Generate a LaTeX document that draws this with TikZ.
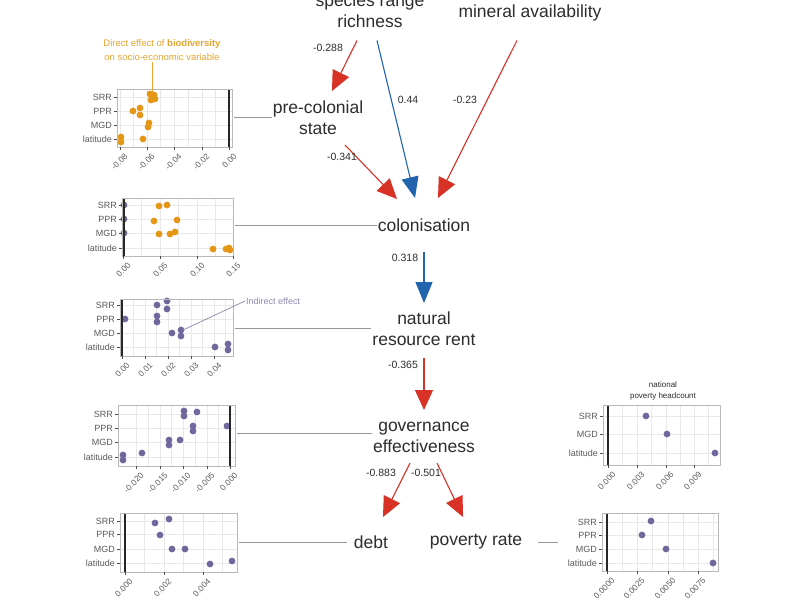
\documentclass[tikz,border=0pt]{standalone}
\usepackage{fontspec}
\setmainfont{Liberation Sans}
\usetikzlibrary{arrows.meta,calc}
\definecolor{cred}{RGB}{216,50,38}
\definecolor{cblue}{RGB}{35,100,175}
\definecolor{corange}{RGB}{228,150,20}
\definecolor{ctitle}{RGB}{230,165,50}
\definecolor{cpurple}{RGB}{112,104,156}
\definecolor{cind}{RGB}{140,136,180}
\definecolor{ctext}{RGB}{45,45,45}
\definecolor{caxis}{RGB}{90,90,90}
\definecolor{cgrid}{RGB}{232,232,232}
\definecolor{cconn}{RGB}{150,150,150}
\newcommand{\ytk}[3]{\draw[tickmark] (#1-3,#2) -- (#1,#2); \node[ylab] at (#1-5,#2) {#3};}
\newcommand{\xtk}[3]{\draw[tickmark] (#1,#2) -- (#1,#2+3); \node[xlab] at (#1+4,#2+6) {#3};}
\newcommand{\dO}[2]{\fill[corange] (#1,#2) circle (3.4pt);}
\newcommand{\dP}[2]{\fill[cpurple] (#1,#2) circle (3.4pt);}
\begin{document}
\begin{tikzpicture}[x=1pt,y=-1pt,
  main/.style={font=\fontsize{17.5}{21}\selectfont, text=ctext, align=center, inner sep=1pt},
  elab/.style={font=\fontsize{10.5}{12}\selectfont, text=ctext, inner sep=0pt},
  redarr/.style={draw=cred, line width=1.1pt, -{Triangle[width=18pt,length=20pt]}},
  bluearr/.style={draw=cblue, line width=1.1pt, -{Triangle[width=17pt,length=21pt]}},
  conn/.style={draw=cconn, line width=0.8pt},
  gridl/.style={draw=cgrid, line width=0.5pt},
  framel/.style={draw=gray!55, line width=0.8pt},
  zerol/.style={draw=black!85, line width=2.4pt},
  tickmark/.style={draw=gray!60!black, line width=0.6pt},
  ylab/.style={font=\fontsize{9}{10}\selectfont, text=caxis, anchor=east, inner sep=0pt},
  xlab/.style={font=\fontsize{8.3}{9}\selectfont, text=caxis, anchor=north east, rotate=45, inner sep=0pt},
]
\useasboundingbox[fill=white] (0,0) rectangle (800,600);

% ---------- main nodes ----------
\node[main] (srr) at (370,10.5) {species range\\richness};
\node[main] (min) at (530,12.5) {mineral availability};
\node[main] (pre) at (318,118) {pre-colonial\\state};
\node[main] (col) at (424,225) {colonisation};
\node[main] (nrr) at (424,329) {natural\\resource rent};
\node[main] (gov) at (424,437) {governance\\effectiveness};
\node[main] (debt) at (371,542) {debt};
\node[main] (pov) at (476,542) {poverty rate};

% ---------- arrows ----------
\draw[redarr] ($(srr)+(-13,30)$) -- ($(pre)+(14,-27)$);
\draw[bluearr] ($(srr)+(7,30)$) -- ($(col)+(-9,-27)$);
\draw[redarr] ($(min)+(-13,28)$) -- ($(col)+(14,-27)$);
\draw[redarr] ($(pre)+(27,27)$) -- ($(col)+(-27,-26)$);
\draw[bluearr] ($(col)+(0,27)$) -- ($(nrr)+(0,-26)$);
\draw[redarr] ($(nrr)+(0,29)$) -- ($(gov)+(0,-27)$);
\draw[redarr] ($(gov)+(-14,26)$) -- ($(debt)+(12,-25)$);
\draw[redarr] ($(gov)+(13,26)$) -- ($(pov)+(-13,-25)$);

% ---------- edge labels ----------
\node[elab] (l1) at (328,48) {-0.288};
\node[elab] (l2) at (408,100) {0.44};
\node[elab] (l3) at (465,100) {-0.23};
\node[elab] (l4) at (342,157) {-0.341};
\node[elab] (l5) at (405,258) {0.318};
\node[elab] (l6) at (403,365) {-0.365};
\node[elab] (l7) at (381,473) {-0.883};
\node[elab] (l8) at (426,473) {-0.501};

% ---------- plot 1 ----------
\fill[white] (117,89) rectangle (232,147);
\foreach \x in {120,133.5,147,160.5,174,188,202,215.5,229} \draw[gridl] (\x,89)--(\x,147);
\foreach \y in {97,111,125,139} \draw[gridl] (117,\y)--(232,\y);
\dO{150}{94}\dO{154}{95}\dO{151}{100}\dO{155}{99}
\dO{133}{111}\dO{140}{108}\dO{140}{115}
\dO{149}{123}\dO{148}{127}
\dO{121}{137}\dO{121}{142}\dO{143}{139}
\draw[zerol] (229,89)--(229,147);
\draw[framel] (117,89) rectangle (232,147);
\ytk{117}{97}{SRR}\ytk{117}{111}{PPR}\ytk{117}{125}{MGD}\ytk{117}{139}{latitude}
\xtk{120}{147}{-0.08}\xtk{147}{147}{-0.06}\xtk{174}{147}{-0.04}\xtk{202}{147}{-0.02}\xtk{229}{147}{0.00}
\node[font=\fontsize{9.5}{14}\selectfont, text=ctitle, align=center, inner sep=1pt] (ttl) at (162,50)
  {Direct effect of \textbf{biodiversity}\\on socio-economic variable};
\coordinate (p1dot) at (152,92);
\draw[draw=ctitle, line width=0.8pt] (ttl.south -| p1dot) -- (p1dot);
\coordinate (p1c) at (234,117);
\draw[conn] (p1c) -- (pre.west |- p1c);

% ---------- plot 2 ----------
\fill[white] (122,198) rectangle (233,256);
\foreach \x in {123,141.5,160,178.5,197,215,233} \draw[gridl] (\x,198)--(\x,256);
\foreach \y in {205,219,233,248} \draw[gridl] (122,\y)--(233,\y);
\dP{124}{205}\dP{124}{219}\dP{124}{233}
\dO{159}{206}\dO{167}{205}
\dO{154}{221}\dO{177}{220}
\dO{159}{234}\dO{170}{234}\dO{175}{232}
\dO{213}{249}\dO{226}{249}\dO{229}{248}\dO{230}{250}
\draw[zerol] (124,198)--(124,256);
\draw[framel] (122,198) rectangle (233,256);
\ytk{122}{205}{SRR}\ytk{122}{219}{PPR}\ytk{122}{233}{MGD}\ytk{122}{248}{latitude}
\xtk{123}{256}{0.00}\xtk{160}{256}{0.05}\xtk{197}{256}{0.10}\xtk{233}{256}{0.15}
\coordinate (p2c) at (235,225);
\draw[conn] (p2c) -- (col.west |- p2c);

% ---------- plot 3 ----------
\fill[white] (120,299) rectangle (233,356);
\foreach \x in {122,133.5,145,156.5,168,179.5,191,202.5,214,225.5} \draw[gridl] (\x,299)--(\x,356);
\foreach \y in {305,319,333,347} \draw[gridl] (120,\y)--(233,\y);
\dP{157}{305}\dP{167}{301}\dP{167}{309}
\dP{125}{319}\dP{157}{316}\dP{157}{322}
\dP{172}{333}\dP{181}{330}\dP{181}{336}
\dP{215}{347}\dP{228}{344}\dP{228}{350}
\draw[zerol] (122,299)--(122,356);
\draw[framel] (120,299) rectangle (233,356);
\ytk{120}{305}{SRR}\ytk{120}{319}{PPR}\ytk{120}{333}{MGD}\ytk{120}{347}{latitude}
\xtk{122}{356}{0.00}\xtk{145}{356}{0.01}\xtk{168}{356}{0.02}\xtk{191}{356}{0.03}\xtk{214}{356}{0.04}
\node[font=\fontsize{9}{10}\selectfont, text=cind, anchor=west, inner sep=1pt] (ind) at (245,301) {Indirect effect};
\coordinate (p3dot) at (183,330);
\draw[draw=cind!80!gray, line width=0.7pt] (ind.west) -- (p3dot);
\coordinate (p3c) at (235,328);
\draw[conn] (p3c) -- (nrr.west |- p3c);

% ---------- plot 4 ----------
\fill[white] (118,405) rectangle (235,466);
\foreach \x in {136,148,160,171.5,183,195,207,218.5,230} \draw[gridl] (\x,405)--(\x,466);
\foreach \y in {414,428,442,457} \draw[gridl] (118,\y)--(235,\y);
\dP{184}{411}\dP{184}{416}\dP{197}{412}
\dP{193}{426}\dP{193}{431}\dP{227}{426}
\dP{169}{440}\dP{169}{445}\dP{180}{440}
\dP{123}{455}\dP{123}{460}\dP{142}{453}
\draw[zerol] (230,405)--(230,466);
\draw[framel] (118,405) rectangle (235,466);
\ytk{118}{414}{SRR}\ytk{118}{428}{PPR}\ytk{118}{442}{MGD}\ytk{118}{457}{latitude}
\xtk{136}{466}{-0.020}\xtk{160}{466}{-0.015}\xtk{183}{466}{-0.010}\xtk{207}{466}{-0.005}\xtk{230}{466}{0.000}
\coordinate (p4c) at (237,433);
\draw[conn] (p4c) -- (gov.west |- p4c);

% ---------- plot 5 ----------
\fill[white] (120,513) rectangle (237,572);
\foreach \x in {125,144.5,164,183.5,203,222.5} \draw[gridl] (\x,513)--(\x,572);
\foreach \y in {521,534,549,563} \draw[gridl] (120,\y)--(237,\y);
\dP{155}{523}\dP{169}{519}
\dP{160}{535}
\dP{172}{549}\dP{185}{549}
\dP{210}{564}\dP{232}{561}
\draw[zerol] (125,513)--(125,572);
\draw[framel] (120,513) rectangle (237,572);
\ytk{120}{521}{SRR}\ytk{120}{534}{PPR}\ytk{120}{549}{MGD}\ytk{120}{563}{latitude}
\xtk{125}{572}{0.000}\xtk{164}{572}{0.002}\xtk{203}{572}{0.004}
\coordinate (p5c) at (239,542);
\draw[conn] (p5c) -- ($(debt.west |- p5c)+(-6,0)$);

% ---------- right plot 1 ----------
\node[font=\fontsize{8}{11}\selectfont, text=ctext, align=center, inner sep=0pt] (rt) at (663,390.5) {national\\poverty headcount};
\fill[white] (603,405) rectangle (720,465);
\foreach \x in {608,622.5,637,651.5,666,680,694,708} \draw[gridl] (\x,405)--(\x,465);
\foreach \y in {416,434,453} \draw[gridl] (603,\y)--(720,\y);
\dP{646}{416}\dP{667}{434}\dP{715}{453}
\draw[zerol] (608,405)--(608,465);
\draw[framel] (603,405) rectangle (720,465);
\ytk{603}{416}{SRR}\ytk{603}{434}{MGD}\ytk{603}{453}{latitude}
\xtk{608}{465}{0.000}\xtk{637}{465}{0.003}\xtk{666}{465}{0.006}\xtk{694}{465}{0.009}

% ---------- right plot 2 ----------
\fill[white] (602,513) rectangle (718,571);
\foreach \x in {607,622,637,652.5,668,683,698,713} \draw[gridl] (\x,513)--(\x,571);
\foreach \y in {522,535,549,563} \draw[gridl] (602,\y)--(718,\y);
\dP{651}{521}\dP{642}{535}\dP{666}{549}\dP{713}{563}
\draw[zerol] (607,513)--(607,571);
\draw[framel] (602,513) rectangle (718,571);
\ytk{602}{522}{SRR}\ytk{602}{535}{PPR}\ytk{602}{549}{MGD}\ytk{602}{563}{latitude}
\xtk{607}{571}{0.0000}\xtk{637}{571}{0.0025}\xtk{668}{571}{0.0050}\xtk{698}{571}{0.0075}
\coordinate (rp2c) at (558,542);
\draw[conn] ($(pov.east)+(15,0)$) -- (rp2c);
\end{tikzpicture}
\end{document}
